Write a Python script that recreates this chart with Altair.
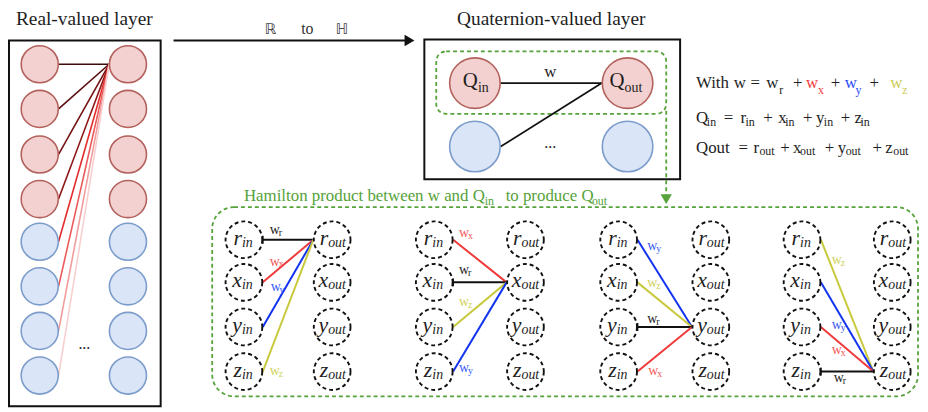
import altair as alt
import pandas as pd

SERIF = "Liberation Serif"
SANS = "DejaVu Sans"

# ---------------- data ----------------
# left (real-valued) layer
LEFT_COL_X = [40, 129]
LEFT_ROW_Y = [63, 108, 154, 199, 242, 287, 332, 377]
LEFT_KIND = ["real", "real", "real", "real", "imag", "imag", "imag", "imag"]
LEFT_LINK_COLORS = ["#3e0b0b", "#5a0e0e", "#731212", "#8e1515",
                    "#e32b2b", "#ea5a5a", "#f29b9b", "#f8cfcf"]
LEFT_HUB = (110, 63)

# quaternion layer
Q_COL_X = [479, 633]
Q_ROW_Y = [82, 146]
Q_KIND = ["real", "imag"]

FILL = {"real": "#f2d1d0", "imag": "#dae5f7"}
STROKE = {"real": "#b3615c", "imag": "#7c9ccb"}

# Hamilton product panels
COMPONENTS = ["r", "x", "y", "z"]
HAM_IN_X = [246, 438, 624, 809]
HAM_OUT_X = [335, 530, 717, 900]
HAM_ROW_Y = [240, 283, 328, 373]
HAM_WEIGHTS = [["r", "x", "y", "z"],
               ["x", "r", "z", "y"],
               ["y", "z", "r", "x"],
               ["z", "y", "x", "r"]]
HAM_LABEL_POS = [[(277, 230), (277, 262), (278, 288), (277, 372)],
                 [(468, 233), (468, 271), (468, 303), (468, 369)],
                 [(658, 246), (658, 284), (658, 320), (659, 372)],
                 [(844, 260), (844, 326), (844, 351), (846, 380)]]
W_LINE_COLOR = {"r": "#111111", "x": "#f03a3a", "y": "#1233f0", "z": "#c9c93e"}
W_TEXT_COLOR = {"r": "#222222", "x": "#f25a5a", "y": "#3a5cf2", "z": "#d2d25e"}

GREEN = "#55a33a"
TXT = "#1e1e1e"

# ---------------- build tables ----------------
circles = []
for kind, y in zip(LEFT_KIND, LEFT_ROW_Y):
    for x in LEFT_COL_X:
        circles.append(dict(x=x, y=y, s=1400, f=FILL[kind], st=STROKE[kind]))
for kind, y in zip(Q_KIND, Q_ROW_Y):
    for x in Q_COL_X:
        circles.append(dict(x=x, y=y, s=2600, f=FILL[kind], st=STROKE[kind]))
circles = pd.DataFrame(circles)

dashed = pd.DataFrame([dict(x=x, y=y) for g in range(4)
                       for x in (HAM_IN_X[g], HAM_OUT_X[g]) for y in HAM_ROW_Y])

lines = []
for y, c in zip(LEFT_ROW_Y, LEFT_LINK_COLORS):
    lines.append(dict(x=LEFT_COL_X[0] + 19, y=y, x2=LEFT_HUB[0], y2=LEFT_HUB[1], c=c, w=1.6))
lines.append(dict(x=Q_COL_X[0] + 26, y=Q_ROW_Y[0], x2=Q_COL_X[1] - 26, y2=Q_ROW_Y[0], c="#111", w=1.8))
lines.append(dict(x=Q_COL_X[0] + 26, y=Q_ROW_Y[1], x2=Q_COL_X[1] - 26, y2=Q_ROW_Y[0], c="#111", w=1.8))
lines.append(dict(x=175, y=39, x2=412, y2=39, c="#111", w=1.8))
for g in range(4):
    tx, ty = HAM_OUT_X[g] - 19, HAM_ROW_Y[g]
    for i in range(4):
        wk = HAM_WEIGHTS[g][i]
        sx, sy = HAM_IN_X[g] + 19, HAM_ROW_Y[i]
        lines.append(dict(x=sx, y=sy, x2=tx, y2=ty, c=W_LINE_COLOR[wk], w=2))
        if wk == "r":
            lines.append(dict(x=sx, y=sy - 4, x2=sx, y2=sy + 4, c="#111", w=1.8))
lines = pd.DataFrame(lines)

texts = []
def T(t, x, y, s, c=TXT, align="left", style="normal", fam="serif"):
    texts.append(dict(t=t, x=x, y=y, s=s, c=c, al=align, st=style, fam=fam))

T("Real-valued layer", 85, 17, 19.5, align="center")
T("Quaternion-valued layer", 556, 17, 19.5, align="center")
T("\u211d", 273, 27, 15, "#444", "center", fam="sans")
T("to", 310, 27, 16, "#333", "center")
T("\u210d", 345, 27, 15, "#444", "center", fam="sans")
T("...", 85, 345, 16, align="center")
T("Q", 482, 80, 21, align="right"); T("in", 482, 87, 14)
T("Q", 630, 80, 21, align="right"); T("out", 630, 87, 14)
T("w", 555, 71, 17, align="center")
T("...", 555, 142, 16, align="center")

RED, BLUE, YEL = "#f03c3c", "#2b4cf5", "#cccc55"
for t, x, s, c in [("With", 702, 0, TXT), ("w", 740, 0, TXT), ("=", 757, 0, TXT),
                   ("w", 773, 0, TXT), ("r", 786, 1, TXT), ("+", 800, 0, TXT),
                   ("w", 813, 0, RED), ("x", 825, 1, RED), ("+", 838, 0, TXT),
                   ("w", 852, 0, BLUE), ("y", 863, 1, BLUE), ("+", 877, 0, TXT),
                   ("w", 898, 0, YEL), ("z", 910, 1, YEL)]:
    T(t, x, 89 if s else 82, 12 if s else 17, c)
for t, x, s in [("Q", 702, 0), ("in", 713, 1), ("=", 730, 0), ("r", 747, 0), ("in", 752, 1),
                ("+", 770, 0), ("x", 785, 0), ("in", 792, 1), ("+", 810, 0), ("y", 823, 0),
                ("in", 831, 1), ("+", 848, 0), ("z", 862, 0), ("in", 868, 1)]:
    T(t, x, 121 if s else 117, 12 if s else 17)
for t, x, s in [("Qout", 702, 0), ("=", 745, 0), ("r", 760, 0), ("out", 766, 1), ("+", 787, 0),
                ("x", 800, 0), ("out", 807, 1), ("+", 832, 0), ("y", 845, 0), ("out", 853, 1),
                ("+", 880, 0), ("z", 893, 0), ("out", 901, 1)]:
    T(t, x, 151 if s else 147, 12 if s else 17)

T("Hamilton product between w and Q", 246, 196, 17, GREEN)
T("in", 489, 201, 12, GREEN)
T("to produce Q", 510, 196, 17, GREEN)
T("out", 597, 201, 12, GREEN)

for g in range(4):
    for i, comp in enumerate(COMPONENTS):
        T(comp, HAM_IN_X[g] - 2, HAM_ROW_Y[i] - 2, 22, align="right", style="italic")
        T("in", HAM_IN_X[g] - 2, HAM_ROW_Y[i] + 3, 14, style="italic")
        T(comp, HAM_OUT_X[g] - 4, HAM_ROW_Y[i] - 2, 22, align="right", style="italic")
        T("out", HAM_OUT_X[g] - 4, HAM_ROW_Y[i] + 3, 14, style="italic")
        wk = HAM_WEIGHTS[g][i]
        lx, ly = HAM_LABEL_POS[g][i]
        T("w", lx, ly, 14, W_TEXT_COLOR[wk], "center")
        T(wk, lx + 4, ly + 3, 10, W_TEXT_COLOR[wk])
texts = pd.DataFrame(texts)

boxes = pd.DataFrame([dict(x=9, x2=162, y=39, y2=408), dict(x=428, x2=686, y=38, y2=179)])
inner = pd.DataFrame([dict(x=440, x2=672, y=50, y2=113)])
ham = pd.DataFrame([dict(x=214, x2=926, y=207, y2=398)])
vdash = pd.DataFrame([dict(x=672, y=110, x2=672, y2=196)])
tri_r = pd.DataFrame([dict(x=413, y=39)])
tri_d = pd.DataFrame([dict(x=672, y=199)])

# ---------------- chart ----------------
XS = alt.Scale(domain=[8, 928], range=[0, 920], nice=False, zero=False)
YS = alt.Scale(domain=[8, 412], range=[0, 404], nice=False, zero=False)
X = lambda f="x": alt.X(f"{f}:Q", scale=XS, axis=None)
Y = lambda f="y": alt.Y(f"{f}:Q", scale=YS, axis=None)

layers = []
layers.append(alt.Chart(boxes).mark_rect(fillOpacity=0, stroke="#111", strokeWidth=2)
              .encode(x=X(), x2="x2:Q", y=Y(), y2="y2:Q"))
layers.append(alt.Chart(inner).mark_rect(fillOpacity=0, stroke=GREEN, strokeWidth=1.8,
                                         strokeDash=[4, 3], cornerRadius=10)
              .encode(x=X(), x2="x2:Q", y=Y(), y2="y2:Q"))
layers.append(alt.Chart(ham).mark_rect(fillOpacity=0, stroke=GREEN, strokeWidth=1.8,
                                       strokeDash=[4, 3], cornerRadius=22)
              .encode(x=X(), x2="x2:Q", y=Y(), y2="y2:Q"))
layers.append(alt.Chart(vdash).mark_rule(stroke=GREEN, strokeWidth=1.8, strokeDash=[4, 3])
              .encode(x=X(), y=Y(), x2="x2:Q", y2="y2:Q"))
layers.append(alt.Chart(lines).mark_rule()
              .encode(x=X(), y=Y(), x2="x2:Q", y2="y2:Q",
                      color=alt.Color("c:N", scale=None),
                      strokeWidth=alt.StrokeWidth("w:Q", scale=None)))
layers.append(alt.Chart(circles).mark_point(shape="circle", filled=True, opacity=1, strokeWidth=1.6)
              .encode(x=X(), y=Y(), size=alt.Size("s:Q", scale=None),
                      fill=alt.Fill("f:N", scale=None), stroke=alt.Stroke("st:N", scale=None)))
layers.append(alt.Chart(dashed).mark_point(shape="circle", filled=False, opacity=1, size=1370,
                                           stroke="#111", strokeWidth=1.9, strokeDash=[4, 3])
              .encode(x=X(), y=Y()))
layers.append(alt.Chart(tri_r).mark_point(shape="triangle-right", filled=True, size=130,
                                          color="#111", opacity=1)
              .encode(x=X(), y=Y()))
layers.append(alt.Chart(tri_d).mark_point(shape="triangle-down", filled=True, size=130,
                                          color=GREEN, opacity=1)
              .encode(x=X(), y=Y()))

FAMILY = {"serif": SERIF, "sans": SANS}
for fam in ["serif", "sans"]:
    for st in ["normal", "italic"]:
        for al in ["left", "center", "right"]:
            sub = texts[(texts.fam == fam) & (texts.st == st) & (texts.al == al)]
            if len(sub) == 0:
                continue
            sub = sub[["t", "x", "y", "s", "c"]].reset_index(drop=True)
            layers.append(alt.Chart(sub).mark_text(align=al, baseline="middle",
                                                   font=FAMILY[fam], fontStyle=st)
                          .encode(x=X(), y=Y(), text="t:N",
                                  size=alt.Size("s:Q", scale=None),
                                  color=alt.Color("c:N", scale=None)))

chart = (alt.layer(*layers)
         .properties(width=920, height=404, padding=0, autosize="none")
         .configure_view(stroke=None)
         .configure_text(font=SERIF))

chart.save("out.html", embed_options={"renderer": "svg", "actions": False})
